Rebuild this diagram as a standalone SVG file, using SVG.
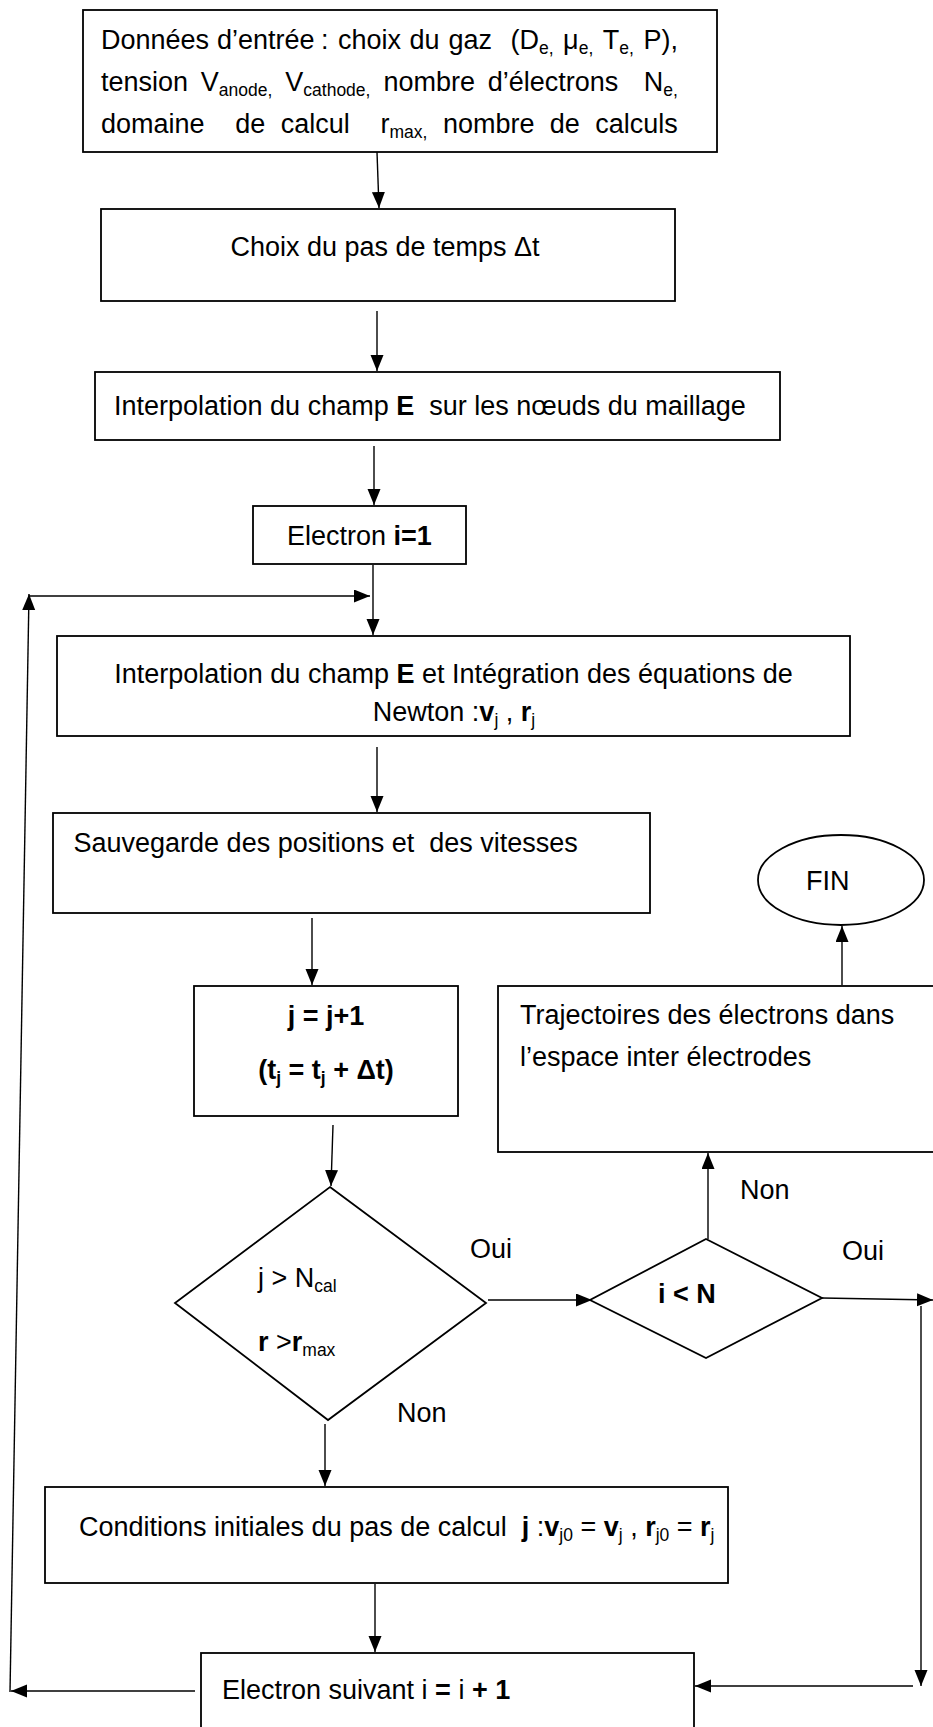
<svg xmlns="http://www.w3.org/2000/svg" width="933" height="1727" viewBox="0 0 933 1727">
  <style>
    text { font-family: "Liberation Sans", Arial, sans-serif; font-size: 27px; fill: #000; }
    .b { font-weight: bold; }
    .s { font-size: 17.5px; }
    .box { fill: #fff; stroke: #000; stroke-width: 1.8; }
    .ln { fill: none; stroke: #000; stroke-width: 1.4; }
  </style>
  <defs>
    <marker id="ah" markerUnits="userSpaceOnUse" markerWidth="17" markerHeight="14" refX="16" refY="6.5" orient="auto">
      <path d="M0,0 L16,6.5 L0,13 z" fill="#000"/>
    </marker>
  </defs>
  <rect width="933" height="1727" fill="#fff"/>

  <!-- input data (justified paragraph, one text per word) -->
  <g id="n-donnees">
    <rect class="box" x="83" y="10" width="634" height="142"/>
    <text x="101" y="49">Données</text>
    <text x="217" y="49">d’entrée</text>
    <text x="321" y="49">:</text>
    <text x="338" y="49">choix</text>
    <text x="409.5" y="49">du</text>
    <text x="448.5" y="49">gaz</text>
    <text x="510.5" y="49">(D<tspan class="s" dy="5">e,</tspan></text>
    <text x="563.1" y="49">μ<tspan class="s" dy="5">e,</tspan></text>
    <text x="602.8" y="49">T<tspan class="s" dy="5">e,</tspan></text>
    <text x="643.4" y="49">P),</text>

    <text x="101" y="91">tension</text>
    <text x="200.8" y="91">V<tspan class="s" dy="5">anode,</tspan></text>
    <text x="285.3" y="91">V<tspan class="s" dy="5">cathode,</tspan></text>
    <text x="383.4" y="91">nombre</text>
    <text x="487.7" y="91">d’électrons</text>
    <text x="643.8" y="91">N<tspan class="s" dy="5">e,</tspan></text>

    <text x="101" y="133">domaine</text>
    <text x="235.3" y="133">de</text>
    <text x="280.7" y="133">calcul</text>
    <text x="380.5" y="133">r<tspan class="s" dy="5">max,</tspan></text>
    <text x="442.9" y="133">nombre</text>
    <text x="549.8" y="133">de</text>
    <text x="595.2" y="133">calculs</text>
  </g>

  <g id="n-pas">
    <rect class="box" x="101" y="209" width="574" height="92"/>
    <text x="385" y="256" text-anchor="middle">Choix du pas de temps Δt</text>
  </g>

  <g id="n-interp">
    <rect class="box" x="95" y="372" width="685" height="68"/>
    <text x="114" y="415">Interpolation du champ <tspan class="b">E</tspan>&#160; sur les nœuds du maillage</text>
  </g>

  <g id="n-e1">
    <rect class="box" x="253" y="506" width="213" height="58"/>
    <text x="287" y="545">Electron <tspan class="b">i=1</tspan></text>
  </g>

  <g id="n-newton">
    <rect class="box" x="57" y="636" width="793" height="100"/>
    <text x="453.5" y="683" text-anchor="middle">Interpolation du champ <tspan class="b">E</tspan> et Intégration des équations de</text>
    <text x="454" y="721" text-anchor="middle">Newton :<tspan class="b">v</tspan><tspan class="s" dy="5">j</tspan><tspan dy="-5"> , </tspan><tspan class="b">r</tspan><tspan class="s" dy="5">j</tspan></text>
  </g>

  <g id="n-sauv">
    <rect class="box" x="53" y="813" width="597" height="100"/>
    <text x="73.5" y="852">Sauvegarde des positions et&#160; des vitesses</text>
  </g>

  <g id="n-j">
    <rect class="box" x="194" y="986" width="264" height="130"/>
    <text class="b" x="326" y="1025" text-anchor="middle">j = j+1</text>
    <text class="b" x="326" y="1079" text-anchor="middle">(t<tspan class="s" dy="5">j</tspan><tspan dy="-5"> = t</tspan><tspan class="s" dy="5">j</tspan><tspan dy="-5"> + Δt)</tspan></text>
  </g>

  <g id="n-fin">
    <ellipse class="box" cx="841" cy="880" rx="83" ry="45"/>
    <text x="806" y="890">FIN</text>
  </g>

  <g id="n-traj">
    <rect class="box" x="498" y="986" width="460" height="166"/>
    <text x="520" y="1024">Trajectoires des électrons dans</text>
    <text x="520" y="1066">l’espace inter électrodes</text>
  </g>

  <g id="n-test-j">
    <polygon class="box" points="330,1187 486,1303 328,1420 175,1303"/>
    <text x="258" y="1287">j &gt; N<tspan class="s" dy="5">cal</tspan></text>
    <text x="258" y="1351"><tspan class="b">r</tspan> &gt;<tspan class="b">r</tspan><tspan class="s" dy="5">max</tspan></text>
  </g>

  <g id="n-test-i">
    <polygon class="box" points="706,1239 822,1298 706,1358 590,1300"/>
    <text class="b" x="658" y="1303">i &lt; N</text>
  </g>

  <g id="n-cond">
    <rect class="box" x="45" y="1487" width="683" height="96"/>
    <text x="79" y="1536">Conditions initiales du pas de calcul&#160; <tspan class="b">j</tspan> :<tspan class="b">v</tspan><tspan class="s" dy="5">j0</tspan><tspan dy="-5"> = </tspan><tspan class="b">v</tspan><tspan class="s" dy="5">j</tspan><tspan dy="-5"> , </tspan><tspan class="b">r</tspan><tspan class="s" dy="5">j0</tspan><tspan dy="-5"> = </tspan><tspan class="b">r</tspan><tspan class="s" dy="5">j</tspan></text>
  </g>

  <g id="n-suivant">
    <rect class="box" x="201" y="1653" width="493" height="110"/>
    <text x="222" y="1699">Electron suivant i <tspan class="b">=</tspan> i <tspan class="b">+ 1</tspan></text>
  </g>

  <!-- connectors -->
  <g id="connectors">
    <line class="ln" x1="377" y1="152" x2="379" y2="208" marker-end="url(#ah)"/>
    <line class="ln" x1="377" y1="311" x2="377" y2="371" marker-end="url(#ah)"/>
    <line class="ln" x1="374" y1="446" x2="374" y2="505" marker-end="url(#ah)"/>
    <line class="ln" x1="373" y1="565" x2="373" y2="635" marker-end="url(#ah)"/>
    <line class="ln" x1="377" y1="747" x2="377" y2="812" marker-end="url(#ah)"/>
    <line class="ln" x1="312" y1="918" x2="312" y2="985" marker-end="url(#ah)"/>
    <line class="ln" x1="333" y1="1125" x2="331" y2="1186" marker-end="url(#ah)"/>
    <line class="ln" x1="842" y1="985" x2="842" y2="926" marker-end="url(#ah)"/>
    <line class="ln" x1="708" y1="1239" x2="708" y2="1153" marker-end="url(#ah)"/>
    <line class="ln" x1="488" y1="1300" x2="592" y2="1300" marker-end="url(#ah)"/>
    <line class="ln" x1="822" y1="1298" x2="933" y2="1300" marker-end="url(#ah)"/>
    <line class="ln" x1="921" y1="1306" x2="921" y2="1686" marker-end="url(#ah)"/>
    <line class="ln" x1="913" y1="1686" x2="695" y2="1686" marker-end="url(#ah)"/>
    <line class="ln" x1="325" y1="1424" x2="325" y2="1486" marker-end="url(#ah)"/>
    <line class="ln" x1="375" y1="1584" x2="375" y2="1652" marker-end="url(#ah)"/>
    <line class="ln" x1="195" y1="1691" x2="11" y2="1691" marker-end="url(#ah)"/>
    <line class="ln" x1="10" y1="1692" x2="29" y2="594" marker-end="url(#ah)"/>
    <line class="ln" x1="29" y1="596" x2="370" y2="596" marker-end="url(#ah)"/>
    <text x="470" y="1258">Oui</text>
    <text x="397" y="1422">Non</text>
    <text x="740" y="1199">Non</text>
    <text x="842" y="1260">Oui</text>
  </g>
</svg>
